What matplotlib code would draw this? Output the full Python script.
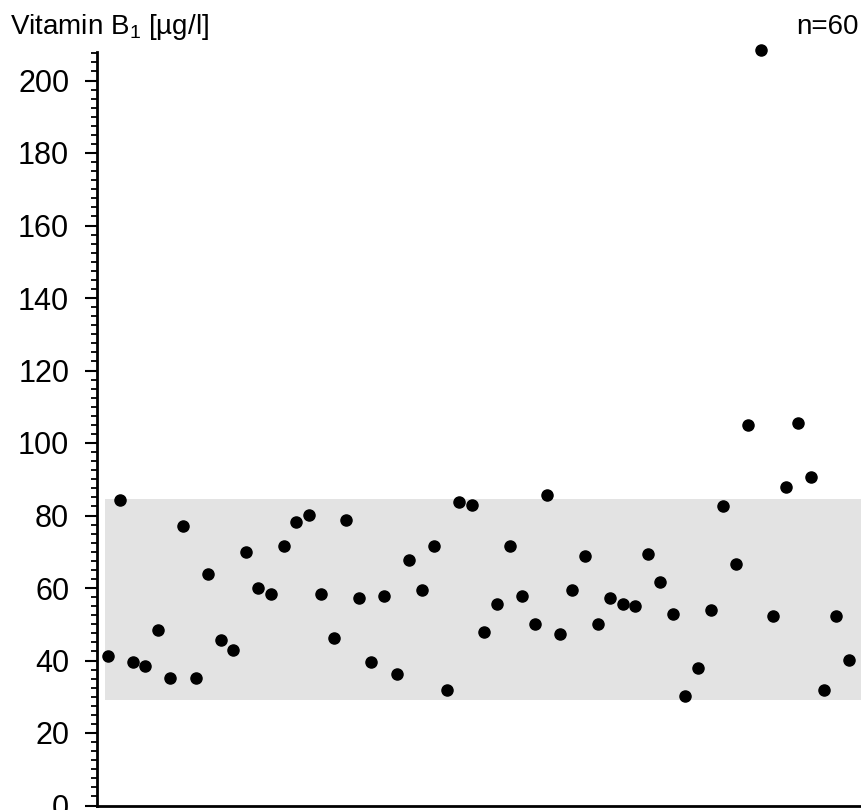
import matplotlib
matplotlib.use("Agg")
import matplotlib.pyplot as plt
import matplotlib.ticker as ticker
import numpy as np

plt.rcParams['font.family'] = ['Liberation Sans', 'DejaVu Sans']

# vitamin B1 values per sample, in sample order
values = [41.2, 84.2, 39.6, 38.5, 48.4, 35.3, 77.0, 35.3, 63.8, 45.7,
          42.9, 69.8, 59.9, 58.3, 71.5, 78.1, 80.2, 58.3, 46.2, 78.7,
          57.2, 39.6, 57.7, 36.3, 67.6, 59.4, 71.5, 31.9, 83.6, 83.0,
          47.9, 55.6, 71.5, 57.7, 50.1, 85.7, 47.3, 59.4, 68.7, 50.1,
          57.2, 55.6, 55.0, 69.3, 61.6, 52.8, 30.3, 37.9, 53.8, 82.5,
          66.5, 105.0, 208.4, 52.2, 87.9, 105.6, 90.7, 31.9, 52.2, 40.2]
ref_low, ref_high = 29.0, 84.5   # reference range
ylabels = [0, 20, 40, 60, 80, 100, 120, 140, 160, 180, 200]

x = np.arange(1, len(values) + 1)

fig = plt.figure(figsize=(8.62, 8.10), dpi=100)
ax = fig.add_axes([97 / 862, 4.5 / 810, 763 / 862, 754 / 810])

ax.fill_between([0.8, 61], ref_low, ref_high, color='#e3e3e3', linewidth=0, zorder=0)
ax.plot(x, values, 'o', color='black', markersize=8, clip_on=False, zorder=3)

ax.set_xlim(0.15, 60.9)
ax.set_ylim(0, 208)
ax.set_xticks([])
ax.set_yticks(ylabels)
ax.yaxis.set_minor_locator(ticker.MultipleLocator(2.5))
ax.tick_params(axis='y', which='major', length=9, width=1.5, labelsize=22, pad=11)
ax.tick_params(axis='y', which='minor', length=4, width=1.3)
for side in ['top', 'right']:
    ax.spines[side].set_visible(False)
ax.spines['left'].set_linewidth(2)
ax.spines['bottom'].set_linewidth(2)

fig.text(10 / 862, 1 - 27 / 810, r'Vitamin B$\mathregular{_1}$ [µg/l]', fontsize=20, va='center', ha='left')
fig.text(859 / 862, 1 - 27 / 810, 'n=60', fontsize=20, va='center', ha='right')

fig.savefig('out.png', dpi=100)
